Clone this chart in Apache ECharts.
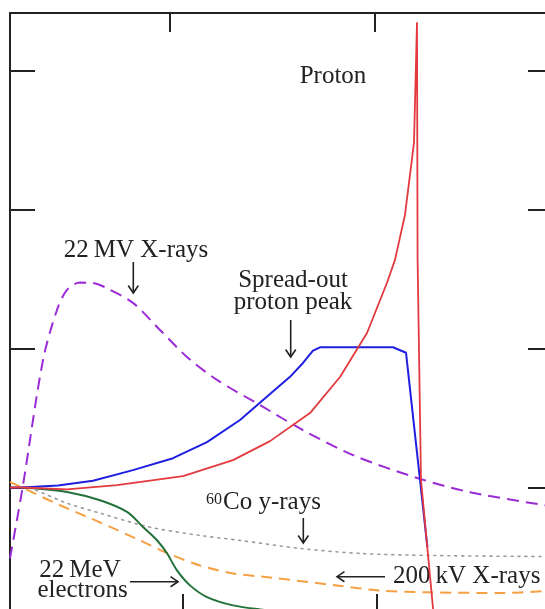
<!DOCTYPE html>
<html>
<head>
<meta charset="utf-8">
<script src="https://cdn.jsdelivr.net/npm/echarts@6/dist/echarts.min.js"></script>
<style>
  html, body { margin: 0; padding: 0; background: #fff; overflow: hidden; }
  /* 原图是裁切过的：右框和下框落在窗口外 */
  #chart { width: 553px; height: 613px; }
</style>
</head>
<body>
<div id="chart"></div>
<script>
// 深度剂量曲线（示意图裁切）：x = 深度 (cm)，y = 相对剂量 (%)，表面处归一到 100
const PROTON = [
  [-0.6, 100], [0, 100], [2.25, 98.6], [4.75, 101.7], [8.05, 108.2], [10.55, 119.7],
  [12.4, 133.4], [14.4, 153.6], [15.9, 179.6], [17.25, 211.3], [18.25, 247.5],
  [18.65, 264], [19.15, 296.5], [19.6, 348.5], [19.75, 435.1],
  [19.78, 264], [19.95, 105.3], [20.7, -10],
];
const SOBP = [
  [-0.6, 100], [0, 100], [1.8, 101.5], [3.55, 104.8], [5.55, 112.5], [7.55, 121.1], [9.25, 132.7],
  [10.9, 148.6], [12.4, 167.3], [13.4, 179.7], [14.05, 189.7], [14.55, 198.6],
  [14.9, 201], [18.55, 201], [19.2, 197.1], [20.27, 57.1],
];
const XRAY_22MV = [
  [-0.6, 49], [0.035, 100.4], [1.05, 191.8], [1.75, 227.9], [2.25, 242.4], [2.9, 247.6],
  [3.55, 247.4], [4.4, 242.4], [5.55, 233], [6.9, 213.5], [8.25, 194], [9.75, 177.5],
  [11.9, 159.4], [14.05, 141.3], [16.55, 123.3], [19.8, 106.7], [22.4, 96.6], [26.15, 87.2],
];
const CO60 = [
  [0, 100], [0.55, 98.8], [2.25, 88.7], [3.9, 81.5], [6.4, 71.4], [8.9, 65.5],
  [10.9, 61.9], [13.9, 56.1], [16.9, 52.5], [20.55, 51], [26.15, 50.3],
];
const XRAY_200KV = [
  [-0.6, 104], [0, 100], [1.9, 87.2], [3.9, 74.9], [5.9, 61.9], [7.3, 52.5], [8.9, 43.8],
  [10.55, 38.1], [12.4, 35.2], [15.75, 29.4], [17.9, 25.8], [20.4, 24.5], [24.05, 24], [26.15, 25.4],
];
const ELECTRON_22MEV = [
  [0, 100], [0.55, 99.5], [2.25, 96.8], [3.9, 90.8], [5.25, 82.4], [6.05, 71.6],
  [6.75, 62], [7.25, 52.6], [7.75, 40.3], [8.4, 29.5], [9.25, 21.1], [10.55, 15.1],
  [11.9, 12.2], [13.9, 9.3], [16.4, 7.1],
];

// 坐标刻度（图中无刻度文字）
const TOP_TICKS = [7.4, 17.65];
const BOTTOM_TICKS = [8.05, 17.75];
const DOSE_TICKS = [100, 200, 300, 400];

const INK = '#222';
const SERIF = "'Liberation Serif', 'DejaVu Serif', serif";

function xAxisOpt(position, ticks) {
  return {
    type: 'value', position, min: -0.6, max: 26.55,
    axisLine: { show: true, onZero: false, lineStyle: { color: INK, width: 2 } },
    axisTick: { show: true, inside: true, length: 19, customValues: ticks, lineStyle: { color: INK, width: 2 } },
    axisLabel: { show: false },
    splitLine: { show: false },
  };
}
function yAxisOpt(position) {
  return {
    type: 'value', position, min: 9.6, max: 441.8,
    axisLine: { show: true, onZero: false, lineStyle: { color: INK, width: 2 } },
    axisTick: { show: true, inside: true, length: 25, customValues: DOSE_TICKS, lineStyle: { color: INK, width: 2 } },
    axisLabel: { show: false },
    splitLine: { show: false },
  };
}

function line(name, data, color, type, extra) {
  return Object.assign({
    name, type: 'line', data, showSymbol: false, clip: true,
    smooth: 0.3,
    lineStyle: { color, width: 2, type },
  }, extra || {});
}

function label(x, y, text, extra) {
  return {
    type: 'text', x, y, silent: true,
    style: Object.assign({ text, fill: INK, font: `25px ${SERIF}`, align: 'center', verticalAlign: 'middle' }, extra || {}),
  };
}

// 箭头：线段 + 开口箭头
function arrow(x1, y1, x2, y2) {
  const ang = Math.atan2(y2 - y1, x2 - x1);
  const h = 9, w = 0.6;
  const p1 = [x2 - h * Math.cos(ang - w), y2 - h * Math.sin(ang - w)];
  const p2 = [x2 - h * Math.cos(ang + w), y2 - h * Math.sin(ang + w)];
  const st = { stroke: INK, lineWidth: 1.6, fill: null };
  return [
    { type: 'line', silent: true, shape: { x1, y1, x2, y2 }, style: st },
    { type: 'polyline', silent: true, shape: { points: [p1, [x2, y2], p2] }, style: st },
  ];
}

const chart = echarts.init(document.getElementById('chart'), null, { renderer: 'canvas' });
chart.setOption({
  animation: false,
  backgroundColor: '#fff',
  grid: { left: 10, top: 13, right: 0, bottom: 0, containLabel: false },
  xAxis: [xAxisOpt('top', TOP_TICKS), xAxisOpt('bottom', BOTTOM_TICKS)],
  yAxis: [yAxisOpt('left'), yAxisOpt('right')],
  series: [
    line('22 MV X-rays', XRAY_22MV, '#9b2bd4', [12, 7]),
    line('60Co', CO60, '#9a9a9a', [2, 5], { lineStyle: { color: '#9a9a9a', width: 1.6, type: [2, 5], cap: 'round' } }),
    line('200 kV X-rays', XRAY_200KV, '#f5a043', [11, 7]),
    line('22 MeV electrons', ELECTRON_22MEV, '#23713a', 'solid'),
    line('Spread-out proton peak', SOBP, '#1f1fe0', 'solid', { smooth: false }),
    line('Proton', PROTON, '#e23a3f', 'solid', { smooth: false, lineStyle: { color: '#e23a3f', width: 1.8 } }),
  ],
  graphic: [
    label(333, 76.6, 'Proton'),
    label(136, 250, '22\u2009MV X-rays'),
    label(293, 280, 'Spread-out'),
    label(293, 302, 'proton peak'),
    label(206, 499.6, '60', { font: `16px ${SERIF}`, align: 'left' }),
    label(223, 502.3, 'Co y-rays', { align: 'left' }),
    label(80, 570, '22\u2009MeV'),
    label(82.5, 590, 'electrons'),
    label(466.7, 576, '200\u2009kV X-rays'),
    ...arrow(133.3, 262, 133.3, 293),
    ...arrow(290.7, 320, 290.7, 357),
    ...arrow(303.3, 518, 303.3, 543),
    ...arrow(130, 581.7, 178, 581.7),
    ...arrow(385, 576.7, 337, 576.7),
  ],
});
</script>
</body>
</html>
